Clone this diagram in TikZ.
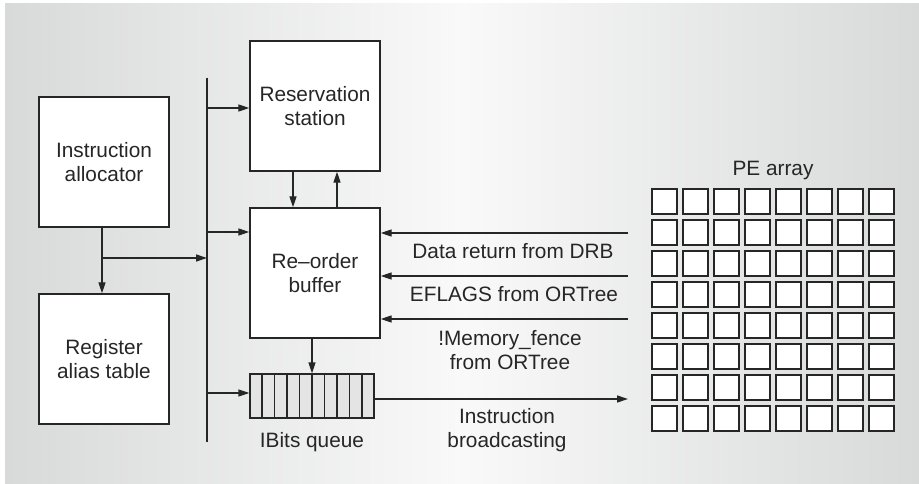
\documentclass[tikz,border=0pt]{standalone}
\usepackage{fontspec}
\setmainfont{Liberation Sans}
\usetikzlibrary{arrows.meta,calc}
\definecolor{ink}{HTML}{262626}
\definecolor{bgedge}{HTML}{D8D9D9}
\definecolor{bgmid}{HTML}{F9F9F9}
\definecolor{qfill}{HTML}{E4E4E4}
\begin{document}
\begin{tikzpicture}[x=1pt,y=-1pt,
  txt/.style={text=ink,align=center,font=\fontsize{20.8}{24.5}\selectfont},
  box/.style={txt,draw=ink,line width=1.4pt,fill=white,minimum width=130pt,minimum height=130pt,inner sep=0pt},
  wire/.style={draw=ink,line width=1.3pt},
  arr/.style={wire,-{Triangle[length=11pt,width=7pt]}},
  pecell/.style={draw=ink,line width=1.3pt,fill=white,minimum size=25pt,inner sep=0pt}]
\useasboundingbox (0,0) rectangle (919,484);
\fill[white] (0,0) rectangle (919,484);
\shade[left color=bgedge,right color=bgedge,middle color=bgmid] (5,4) rectangle (919,484);

% boxes
\node[box] (A) at (104,162) {Instruction\\allocator};
\node[box] (R) at (104,359) {Register\\alias table};
\node[box] (RS) at (315,106) {Reservation\\station};
\node[box] (ROB) at (315,273) {Re–order\\buffer};

% IBits queue
\node[draw=ink,line width=1.3pt,fill=qfill,minimum width=124pt,minimum height=44pt,inner sep=0pt] (Q) at (312,396) {};
\foreach \i in {1,...,9}
  \draw[wire] ($(Q.north west)!\i/10!(Q.north east)$) -- ($(Q.south west)!\i/10!(Q.south east)$);
\node[txt] (Ql) at (312,442) {IBits queue};

% bus
\coordinate (bt) at (207,78);
\coordinate (bb) at (207,442);
\draw[wire] (bt) -- (bb);
\coordinate (b1) at (207,108);
\coordinate (b2) at (207,232);
\coordinate (b3) at (207,393);
\draw[arr] (b1) -- (b1 -| RS.west);
\draw[arr] (b2) -- (b2 -| ROB.west);
\draw[arr] (b3) -- (b3 -| Q.west);

% allocator -> RAT and bus
\coordinate (j) at (102,258);
\draw[arr] (A.south -| j) -- (R.north -| j);
\draw[arr] (j) -- (j -| bt);

% RS <-> ROB
\draw[arr] ($(RS.south)+(-22,0)$) -- ($(ROB.north)+(-22,0)$);
\draw[arr] ($(ROB.north)+(22,0)$) -- ($(RS.south)+(22,0)$);

% ROB -> queue
\draw[arr] (ROB.south -| Q.north) -- (Q.north);

% inputs to ROB
\coordinate (i1) at (628,233);
\coordinate (i2) at (628,276);
\coordinate (i3) at (628,319);
\draw[arr] (i1) -- (i1 -| ROB.east);
\draw[arr] (i2) -- (i2 -| ROB.east);
\draw[arr] (i3) -- (i3 -| ROB.east);
\node[txt] (l1) at (513,251) {Data return from DRB};
\node[txt] (l2) at (514,294) {EFLAGS from ORTree};
\node[txt] (l3) at (510,350) {!Memory\_fence\\from ORTree};

% broadcast
\coordinate (po) at (628,399);
\draw[arr] (po -| Q.east) -- (po);
\node[txt] (l4) at (507,430) {Instruction\\broadcasting};

% PE array
\node[txt] (pel) at (773,171) {PE array};
\foreach \r in {0,...,7}
  \foreach \c in {0,...,7}
    \node[pecell] (pe-\r-\c) at ({664.5+31*\c},{201.5+31*\r}) {};
\end{tikzpicture}
\end{document}
